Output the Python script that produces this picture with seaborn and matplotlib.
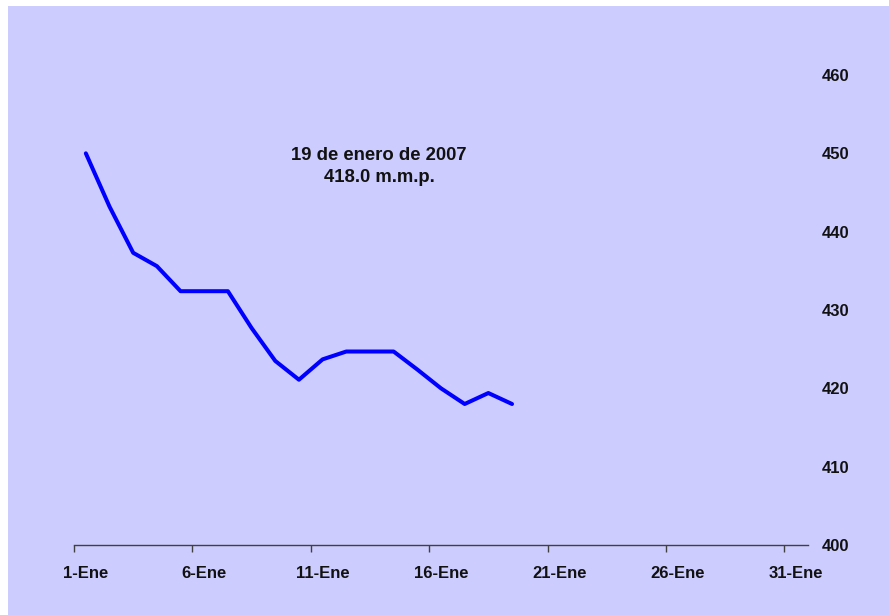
import matplotlib
matplotlib.use("Agg")
import matplotlib.pyplot as plt
import seaborn as sns
import pandas as pd
from matplotlib.patches import Rectangle

sns.set_theme(style="white")
plt.rcParams['font.family'] = ['Liberation Sans', 'DejaVu Sans']

# Data
days = list(range(1, 20))
values = [450.0, 443.2, 437.3, 435.6, 432.4, 432.4, 432.4, 427.7, 423.5, 421.1,
          423.7, 424.7, 424.7, 424.7, 422.4, 420.0, 418.0, 419.4, 418.0]
tick_days = [1, 6, 11, 16, 21, 26, 31]
tick_labels = ["1-Ene", "6-Ene", "11-Ene", "16-Ene", "21-Ene", "26-Ene", "31-Ene"]
y_ticks = [400, 410, 420, 430, 440, 450, 460]
note_lines = ["19 de enero de 2007", "418.0 m.m.p."]

bg = "#CCCCFF"
df = pd.DataFrame({"x": [d + 0.5 for d in days], "v": values})

fig = plt.figure(figsize=(8.89, 6.15), dpi=100)
fig.patch.set_facecolor("white")
fig.patches.append(Rectangle((8 / 889, 0), 1 - 8 / 889, 1 - 6 / 615,
                             transform=fig.transFigure, facecolor=bg,
                             edgecolor="none", zorder=-10))

ax = fig.add_axes([74 / 889, 1 - 545 / 615, (808 - 74) / 889, (545 - 75) / 615])
ax.set_facecolor("none")
sns.lineplot(data=df, x="x", y="v", ax=ax, color="#0000FF", linewidth=2.9)

ax.set_xlim(1, 32)
ax.set_ylim(400, 460)
for s in ["top", "left", "right"]:
    ax.spines[s].set_visible(False)
ax.spines["bottom"].set_color("#404040")
ax.spines["bottom"].set_linewidth(1.0)

ax.set_xticks(tick_days)
ax.set_xticklabels([])
ax.tick_params(axis="x", which="major", direction="out", length=5, width=1,
               color="#404040", bottom=True)
ax.set_xticks([d + 0.5 for d in tick_days], minor=True)
ax.set_xticklabels(tick_labels, minor=True, fontsize=12, fontweight="bold",
                   color="#111111")
ax.tick_params(axis="x", which="minor", length=0, pad=15)

ax.yaxis.tick_right()
ax.set_yticks(y_ticks)
ax.set_yticklabels([str(v) for v in y_ticks], fontsize=12, fontweight="bold",
                   color="#111111")
ax.tick_params(axis="y", length=0, pad=10)
for lab in ax.get_yticklabels():
    lab.set_horizontalalignment("left")

ax.set_xlabel("")
ax.set_ylabel("")
ax.grid(False)

ax.text(379 / 889, 1 - 147 / 615, "\n".join(note_lines), transform=fig.transFigure,
        ha="center", va="top", fontsize=13.3, fontweight="bold",
        color="#111111", linespacing=1.4)

fig.savefig("out.png", dpi=100, facecolor=fig.get_facecolor())
